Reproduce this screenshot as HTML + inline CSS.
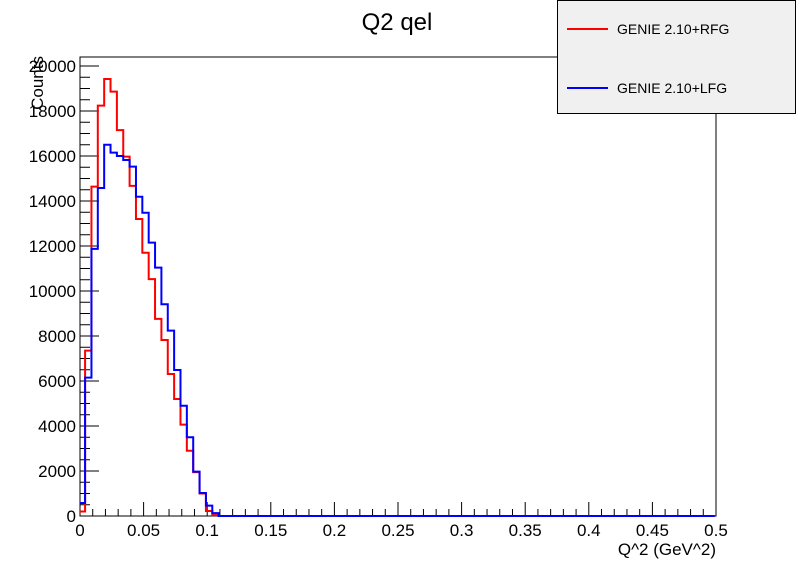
<!DOCTYPE html>
<html><head><meta charset="utf-8"><style>
body{margin:0;background:#fff;}
svg{display:block;font-family:"Liberation Sans",sans-serif;}
</style></head><body>
<svg id="c" width="796" height="574">
<rect x="0" y="0" width="796" height="574" fill="#fff"/>
<text x="397" y="30" font-size="24" text-anchor="middle">Q2 qel</text>
<rect x="80" y="57" width="636" height="459" fill="none" stroke="#000" stroke-width="1"/>
<g id="axes"></g>
<g id="series"></g>
<text x="716" y="555" font-size="17" text-anchor="end">Q^2 (GeV^2)</text>
<text transform="translate(43,56) rotate(-90)" font-size="17" text-anchor="end">Counts</text>
<g>
<rect x="557.5" y="0.5" width="238" height="113" fill="#f0f0f0" stroke="#000"/>
<line x1="567" y1="29" x2="608" y2="29" stroke="#ff0000" stroke-width="2"/>
<text x="617" y="34" font-size="14">GENIE 2.10+RFG</text>
<line x1="567" y1="88" x2="608" y2="88" stroke="#0000ff" stroke-width="2"/>
<text x="617" y="93" font-size="14">GENIE 2.10+LFG</text>
</g>
</svg>
<script>
const binStart = -0.001;
const binWidth = 0.005;
const rfgValues = [200,7350,14640,18240,19420,18860,17150,15970,14670,13200,11700,10530,8760,7820,6310,5200,4060,2900,1950,1000,220,40];
const lfgValues = [580,6150,11870,14580,16500,16150,16000,15820,15530,14190,13480,12150,11040,9410,8240,6490,4900,3500,1970,1020,460,130];
const xTicks = [0,0.05,0.1,0.15,0.2,0.25,0.3,0.35,0.4,0.45,0.5];
const xTickLabels = ["0","0.05","0.1","0.15","0.2","0.25","0.3","0.35","0.4","0.45","0.5"];
const yTicks = [0,2000,4000,6000,8000,10000,12000,14000,16000,18000,20000];
const yTickLabels = ["0","2000","4000","6000","8000","10000","12000","14000","16000","18000","20000"];
const nBins = 100;

const X0=80,X1=716,Y0=516;
function xs(v){return X0+(v/0.5)*(X1-X0);}
function ys(v){return Y0-v*0.0225;}
const NS="http://www.w3.org/2000/svg";
const axes=document.getElementById('axes');
function mk(tag,attrs,parent){const e=document.createElementNS(NS,tag);for(const k in attrs)e.setAttribute(k,attrs[k]);parent.appendChild(e);return e;}
for(let i=0;i<=50;i++){const v=i*0.01;const x=xs(v);const major=(i%5===0);
 const t=mk('line',{x1:x,x2:x,y1:Y0,y2:Y0-(major?14:7),stroke:'#000'},axes);
 
 }
xTicks.forEach((v,i)=>{const t=mk('text',{x:xs(v),y:Y0+20,'font-size':17,'text-anchor':'middle'},axes);t.textContent=xTickLabels[i];
 
 });
for(let i=0;i<=40;i++){const v=i*500;const y=ys(v);const major=(i%4===0);
 const t=mk('line',{x1:X0,x2:X0+(major?19:10),y1:y,y2:y,stroke:'#000'},axes);
 
 }
yTicks.forEach((v,i)=>{const t=mk('text',{x:76,y:ys(v)+6,'font-size':17,'text-anchor':'end'},axes);t.textContent=yTickLabels[i];
 
 });
function stepPath(vals){
 let d='';
 for(let i=0;i<nBins;i++){
  const lo=Math.max(0,binStart+i*binWidth),hi=Math.min(0.5,binStart+(i+1)*binWidth);
  if(hi<=lo)continue;
  const v=i<vals.length?vals[i]:0;const y=ys(v);
  if(d==='')d='M'+xs(lo)+','+y;else d+=' L'+xs(lo)+','+y;
  d+=' L'+xs(hi)+','+y;
 }
 return d;
}
const series=document.getElementById('series');
const pr=mk('path',{d:stepPath(rfgValues),fill:'none',stroke:'#ff0000','stroke-width':2},series);


const pb=mk('path',{d:stepPath(lfgValues),fill:'none',stroke:'#0000ff','stroke-width':2},series);


</script>
</body></html>
